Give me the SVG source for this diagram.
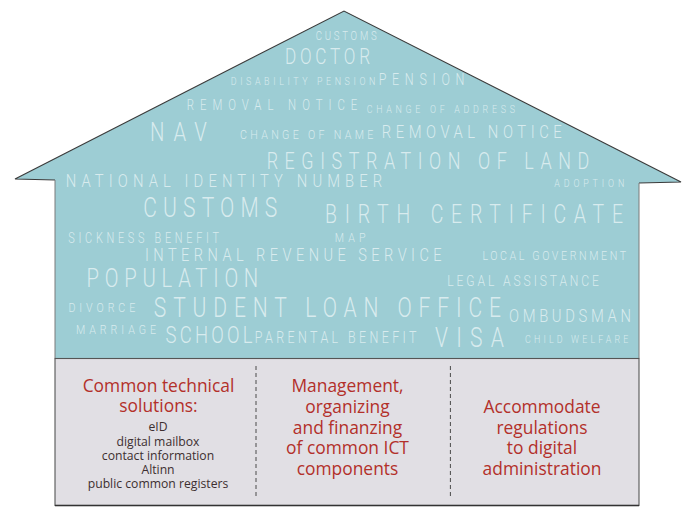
<svg xmlns="http://www.w3.org/2000/svg" width="689" height="508" viewBox="0 0 689 508">
<style>
.w{font-family:"Roboto","Liberation Sans",sans-serif;font-weight:300;fill:#d8ebee;}
.h{font-family:"Open Sans","Noto Sans","Liberation Sans",sans-serif;fill:#b3302a;font-size:17.4px;text-anchor:middle;}
.s{font-family:"Open Sans","Noto Sans","Liberation Sans",sans-serif;fill:#3d2f30;font-size:12.2px;text-anchor:middle;}
.div{stroke:#4a4a4a;stroke-width:1;stroke-dasharray:4 3;fill:none;}
</style>
<rect width="689" height="508" fill="#ffffff"/>
<g id="house">
<path d="M344,11 L15,179 L55,180 L55,358.5 L639,358.5 L639,183 L681,182 Z" fill="#9dcdd4"/>
<path d="M55,180 L15,179 L344,11 L681,182 L639,183" fill="none" stroke="#3a3a3a" stroke-width="1.1"/>
<path d="M55,180 V358.5 M639,183 V358.5" fill="none" stroke="#7a7a7a" stroke-width="1"/>
</g>
<g id="wordcloud" transform="scale(0.78,1)">
<text class="w" x="404.7" y="40" font-size="12.3" textLength="78.2" lengthAdjust="spacing">CUSTOMS</text>
<text class="w" x="365.4" y="64.3" font-size="22" textLength="109" lengthAdjust="spacing">DOCTOR</text>
<text class="w" x="295.8" y="85" font-size="11.4" textLength="185.4" lengthAdjust="spacing">DISABILITY PENSION</text>
<text class="w" x="485.5" y="85" font-size="16" textLength="110" lengthAdjust="spacing">PENSION</text>
<text class="w" x="239.4" y="110" font-size="14.6" textLength="218.7" lengthAdjust="spacing">REMOVAL NOTICE</text>
<text class="w" x="470.1" y="113.3" font-size="11.4" textLength="190.1" lengthAdjust="spacing">CHANGE OF ADDRESS</text>
<text class="w" x="192.3" y="140.7" font-size="26" textLength="72.7" lengthAdjust="spacing">NAV</text>
<text class="w" x="307.7" y="139" font-size="13.7" textLength="170.9" lengthAdjust="spacing">CHANGE OF NAME</text>
<text class="w" x="489.4" y="138.3" font-size="19" textLength="230.8" lengthAdjust="spacing">REMOVAL NOTICE</text>
<text class="w" x="341.9" y="169" font-size="23" textLength="413.6" lengthAdjust="spacing">REGISTRATION OF LAND</text>
<text class="w" x="84.2" y="186.7" font-size="19" textLength="405.8" lengthAdjust="spacing">NATIONAL IDENTITY NUMBER</text>
<text class="w" x="710.6" y="186.7" font-size="11.4" textLength="89.7" lengthAdjust="spacing">ADOPTION</text>
<text class="w" x="183.7" y="216.7" font-size="27" textLength="171.8" lengthAdjust="spacing">CUSTOMS</text>
<text class="w" x="416.7" y="223.3" font-size="25" textLength="382.1" lengthAdjust="spacing">BIRTH CERTIFICATE</text>
<text class="w" x="87.6" y="242.7" font-size="14" textLength="193.2" lengthAdjust="spacing">SICKNESS BENEFIT</text>
<text class="w" x="429.2" y="242.3" font-size="13.7" textLength="39.5" lengthAdjust="spacing">MAP</text>
<text class="w" x="185.9" y="261" font-size="18.7" textLength="380.3" lengthAdjust="spacing">INTERNAL REVENUE SERVICE</text>
<text class="w" x="618.5" y="260" font-size="13.7" textLength="184.1" lengthAdjust="spacing">LOCAL GOVERNMENT</text>
<text class="w" x="111" y="286.7" font-size="26" textLength="220.1" lengthAdjust="spacing">POPULATION</text>
<text class="w" x="573.5" y="285.7" font-size="15.5" textLength="194.4" lengthAdjust="spacing">LEGAL ASSISTANCE</text>
<text class="w" x="87.8" y="311.7" font-size="13.7" textLength="85.6" lengthAdjust="spacing">DIVORCE</text>
<text class="w" x="197.2" y="317.3" font-size="27" textLength="445" lengthAdjust="spacing">STUDENT LOAN OFFICE</text>
<text class="w" x="652.6" y="321.7" font-size="19" textLength="156.4" lengthAdjust="spacing">OMBUDSMAN</text>
<text class="w" x="97.4" y="334" font-size="13.7" textLength="102.6" lengthAdjust="spacing">MARRIAGE</text>
<text class="w" x="212.3" y="343.3" font-size="23.7" textLength="111.5" lengthAdjust="spacing">SCHOOL</text>
<text class="w" x="326.7" y="343.3" font-size="16" textLength="207.3" lengthAdjust="spacing">PARENTAL BENEFIT</text>
<text class="w" x="557.7" y="347.3" font-size="27" textLength="88.5" lengthAdjust="spacing">VISA</text>
<text class="w" x="673.1" y="342.7" font-size="11.4" textLength="132.4" lengthAdjust="spacing">CHILD WELFARE</text>
</g>
<g id="base">
<rect x="55" y="358.5" width="584" height="147" fill="#e1dfe4" stroke="#555555" stroke-width="1.1"/>
<path d="M55,505.5 H639" stroke="#333333" stroke-width="1.6" fill="none"/>
</g>
<g id="connectors">
<path class="div" d="M256,366 V497"/>
<path class="div" d="M450.4,366 V497"/>
</g>
<g id="col-technical">
<text class="h" x="158.5" y="391.7">Common technical</text>
<text class="h" x="158.5" y="412.4">solutions:</text>
<text class="s" x="158" y="430.7">eID</text>
<text class="s" x="158" y="446">digital mailbox</text>
<text class="s" x="158" y="460">contact information</text>
<text class="s" x="158" y="474.3">Altinn</text>
<text class="s" x="158" y="488.3">public common registers</text>
</g>
<g id="col-management">
<text class="h" x="347.5" y="391.7">Management,</text>
<text class="h" x="347.5" y="412.7">organizing</text>
<text class="h" x="347.5" y="433.7">and finanzing</text>
<text class="h" x="347.5" y="454.3">of common ICT</text>
<text class="h" x="347.5" y="475">components</text>
</g>
<g id="col-regulations">
<text class="h" x="542" y="412.7">Accommodate</text>
<text class="h" x="542" y="433.7">regulations</text>
<text class="h" x="542" y="454.3">to digital</text>
<text class="h" x="542" y="475">administration</text>
</g>
</svg>
